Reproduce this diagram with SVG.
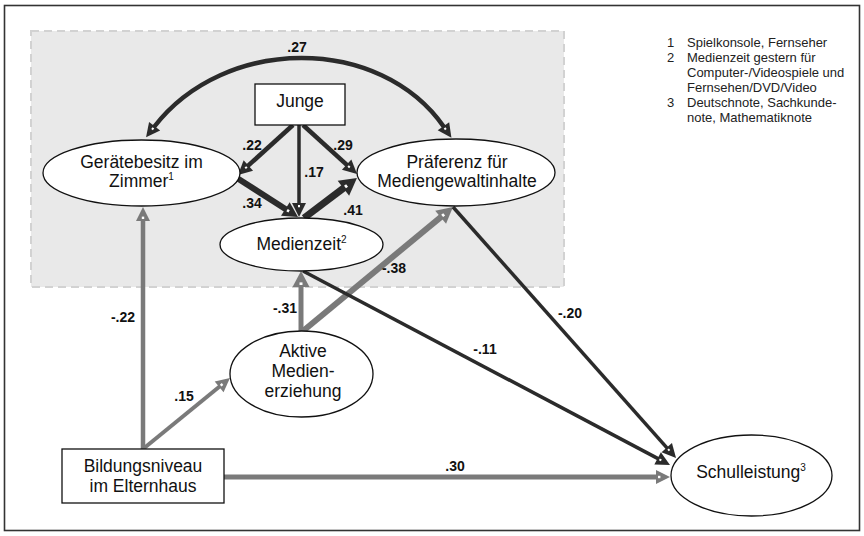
<svg xmlns="http://www.w3.org/2000/svg" width="864" height="536" viewBox="0 0 864 536">
  <defs>
    <style>
      .frame { fill: #ffffff; stroke: #333333; stroke-width: 1.6; }
      .zone { fill: #e9e9e9; stroke: #d2d2d2; stroke-width: 2; stroke-dasharray: 8 5; }
      .node { fill: #ffffff; stroke: #111111; stroke-width: 1.3; }
      .lbl { font-family: "Liberation Sans", Arial, sans-serif; font-size: 17.5px; fill: #111111; text-anchor: middle; }
      .sup { font-size: 10px; }
      .coef { font-family: "Liberation Sans", Arial, sans-serif; font-size: 14px; font-weight: bold; fill: #111111; text-anchor: middle; }
      .legend { font-family: "Liberation Sans", Arial, sans-serif; font-size: 13px; fill: #222222; }
      .dark { fill: none; stroke: #2b2b2b; stroke-linecap: butt; }
      .gray { fill: none; stroke: #7a7a7a; stroke-linecap: butt; }
    </style>
    <marker id="hd" markerUnits="userSpaceOnUse" orient="auto-start-reverse" overflow="visible" markerWidth="1" markerHeight="1" refX="0" refY="0">
      <path d="M-1,-7 L13,0 L-1,7 Z" fill="#2b2b2b"/>
      <rect x="1" y="-1" width="2.2" height="2" fill="#ffffff"/>
    </marker>
    <marker id="hdL" markerUnits="userSpaceOnUse" orient="auto" overflow="visible" markerWidth="1" markerHeight="1" refX="0" refY="0">
      <path d="M-1,-8 L14,0 L-1,8 Z" fill="#2b2b2b"/>
      <rect x="1" y="-1.3" width="2.4" height="2.6" fill="#ffffff"/>
    </marker>
    <marker id="hdXL" markerUnits="userSpaceOnUse" orient="auto" overflow="visible" markerWidth="1" markerHeight="1" refX="0" refY="0">
      <path d="M-1,-9.5 L16,0 L-1,9.5 Z" fill="#2b2b2b"/>
      <rect x="1" y="-1.6" width="2.6" height="3.2" fill="#ffffff"/>
    </marker>
    <marker id="hg" markerUnits="userSpaceOnUse" orient="auto" overflow="visible" markerWidth="1" markerHeight="1" refX="0" refY="0">
      <path d="M-1,-7 L13,0 L-1,7 Z" fill="#7a7a7a"/>
      <rect x="1" y="-1.2" width="2.4" height="2.4" fill="#ffffff"/>
    </marker>
    <marker id="hgL" markerUnits="userSpaceOnUse" orient="auto" overflow="visible" markerWidth="1" markerHeight="1" refX="0" refY="0">
      <path d="M-1,-8.5 L15,0 L-1,8.5 Z" fill="#7a7a7a"/>
      <rect x="1" y="-1.5" width="2.6" height="3" fill="#ffffff"/>
    </marker>
  </defs>

  <!-- outer frame and shaded block -->
  <rect class="frame" x="4.5" y="5.5" width="855" height="525"/>
  <rect class="zone" x="31" y="31" width="533" height="256"/>

  <!-- connectors -->
  <g id="connectors">
    <!-- grey paths from parental education and media education -->
    <line class="gray" x1="224" y1="477" x2="657" y2="477" stroke-width="5" marker-end="url(#hg)"/>
    <line class="gray" x1="143" y1="449" x2="143" y2="220" stroke-width="4.5" marker-end="url(#hg)"/>
    <line class="gray" x1="143" y1="449" x2="219.9" y2="386.2" stroke-width="4" marker-end="url(#hg)"/>
    <line class="gray" x1="301" y1="331" x2="301" y2="286" stroke-width="5" marker-end="url(#hgL)"/>
    <line class="gray" x1="303" y1="331" x2="441.4" y2="216.6" stroke-width="6" marker-end="url(#hgL)"/>

    <!-- correlation between device ownership and preference -->
    <path class="dark" d="M154,127 C225,35 380,35 444,127" stroke-width="4.5" marker-start="url(#hd)" marker-end="url(#hd)"/>

    <!-- paths from Junge -->
    <line class="dark" x1="293" y1="125" x2="247.6" y2="166.2" stroke-width="4.5" marker-end="url(#hd)"/>
    <line class="dark" x1="299" y1="125" x2="299" y2="204" stroke-width="3.5" marker-end="url(#hd)"/>
    <line class="dark" x1="303" y1="125" x2="347.4" y2="165.3" stroke-width="4.5" marker-end="url(#hd)"/>

    <!-- paths into and out of media time -->
    <line class="dark" x1="237" y1="178" x2="286.2" y2="209.5" stroke-width="6" marker-end="url(#hdL)"/>
    <line class="dark" x1="304" y1="218" x2="344.2" y2="187.6" stroke-width="7" marker-end="url(#hdXL)"/>

    <!-- paths to school performance -->
    <line class="dark" x1="303" y1="271" x2="658.5" y2="458.9" stroke-width="3.5" marker-end="url(#hd)"/>
    <line class="dark" x1="453" y1="207" x2="667.4" y2="448.3" stroke-width="3.5" marker-end="url(#hd)"/>
  </g>

  <!-- coefficients -->
  <g id="coefficients">
    <text class="coef" x="297" y="52">.27</text>
    <text class="coef" x="252" y="150">.22</text>
    <text class="coef" x="343" y="150">.29</text>
    <text class="coef" x="314" y="177">.17</text>
    <text class="coef" x="252" y="208">.34</text>
    <text class="coef" x="353" y="215">.41</text>
    <text class="coef" x="394" y="273">-.38</text>
    <text class="coef" x="285" y="313">-.31</text>
    <text class="coef" x="123" y="322">-.22</text>
    <text class="coef" x="184" y="401">.15</text>
    <text class="coef" x="455" y="471">.30</text>
    <text class="coef" x="485" y="354">-.11</text>
    <text class="coef" x="570" y="318">-.20</text>
  </g>

  <!-- nodes -->
  <g id="junge">
    <rect class="node" x="255" y="84" width="90" height="41" stroke-width="1.5"/>
    <text class="lbl" x="300" y="107">Junge</text>
  </g>
  <g id="geraetebesitz">
    <ellipse class="node" cx="141.5" cy="173" rx="98.5" ry="33"/>
    <text class="lbl" x="141.5" y="168">Gerätebesitz im</text>
    <text class="lbl" x="141.5" y="187">Zimmer<tspan class="sup" dy="-7">1</tspan></text>
  </g>
  <g id="praeferenz">
    <ellipse class="node" cx="456" cy="172.5" rx="99" ry="33.5"/>
    <text class="lbl" x="457" y="168">Präferenz für</text>
    <text class="lbl" x="457" y="187">Mediengewaltinhalte</text>
  </g>
  <g id="medienzeit">
    <ellipse class="node" cx="301.5" cy="244.5" rx="81.5" ry="26.5"/>
    <text class="lbl" x="301.5" y="250">Medienzeit<tspan class="sup" dy="-7">2</tspan></text>
  </g>
  <g id="aktive">
    <ellipse class="node" cx="301.5" cy="374" rx="71.5" ry="43"/>
    <text class="lbl" x="303" y="357">Aktive</text>
    <text class="lbl" x="303" y="377">Medien-</text>
    <text class="lbl" x="303" y="397">erziehung</text>
  </g>
  <g id="bildungsniveau">
    <rect class="node" x="62" y="449" width="162" height="54" stroke-width="1.5"/>
    <text class="lbl" x="143" y="472">Bildungsniveau</text>
    <text class="lbl" x="143" y="492">im Elternhaus</text>
  </g>
  <g id="schulleistung">
    <ellipse class="node" cx="751.5" cy="475.5" rx="80.5" ry="40.5"/>
    <text class="lbl" x="751" y="478">Schulleistung<tspan class="sup" dy="-7">3</tspan></text>
  </g>

  <!-- footnotes -->
  <g id="legend" class="legend">
    <text x="667" y="47">1</text>
    <text x="687" y="47">Spielkonsole, Fernseher</text>
    <text x="667" y="62">2</text>
    <text x="687" y="62">Medienzeit gestern für</text>
    <text x="687" y="77">Computer-/Videospiele und</text>
    <text x="687" y="92">Fernsehen/DVD/Video</text>
    <text x="667" y="107">3</text>
    <text x="687" y="107">Deutschnote, Sachkunde-</text>
    <text x="687" y="122">note, Mathematiknote</text>
  </g>
</svg>
